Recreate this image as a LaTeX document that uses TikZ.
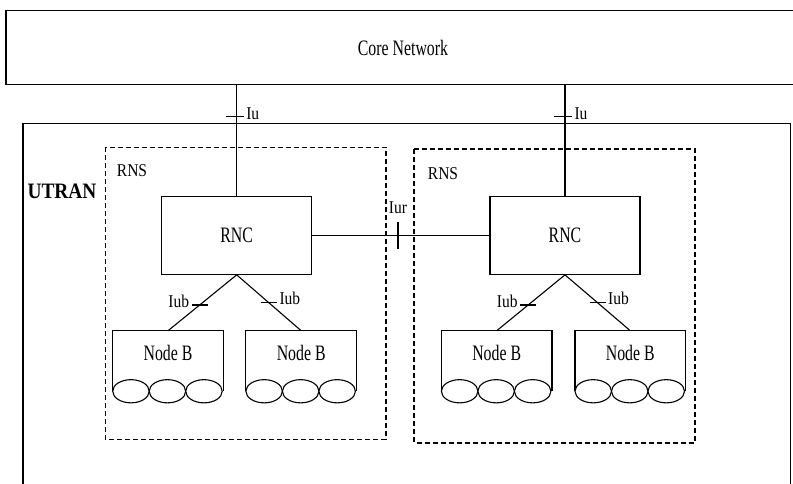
\documentclass[tikz,border=0pt]{standalone}
\usepackage{fontspec}
\setmainfont{Liberation Serif}[FakeStretch=0.72]
\newfontfamily\labelfont{Liberation Serif}[FakeStretch=0.86]
\newfontfamily\utranfont{Liberation Serif}[FakeStretch=0.88]
\usetikzlibrary{calc}

\begin{document}
\begin{tikzpicture}[x=1pt,y=-1pt,line width=1.1pt,
  box/.style={draw,rectangle,inner sep=0pt},
  nbbox/.style={rectangle,inner sep=0pt,minimum width=109.5,minimum height=59.4},
  rns/.style={draw,dash pattern=on 5pt off 3pt},
  small/.style={font=\labelfont\fontsize{18}{18}\selectfont,inner sep=0pt},
  big/.style={font=\fontsize{22}{22}\selectfont}]
\useasboundingbox (0,0) rectangle (793,483);
% core network and UTRAN
\node[box,minimum width=794,minimum height=73.4,big] (core) at (403,47.5) {Core Network};
\draw (23,495) -- (23,123.3) -- (790.7,123.3) -- (790.7,495);
\node[inner sep=0pt,font=\utranfont\bfseries\fontsize{22}{22}\selectfont] (utran) at (62,191) {UTRAN};
% radio network subsystems
\draw[rns] (105.3,147.3) rectangle (386,439.3);
\draw[rns,line width=1.8pt] (414,149.3) rectangle (695,442.7);
\node[small] (rns1) at (132,171) {RNS};
\node[small] (rns2) at (443,174) {RNS};
% RNCs
\node[box,minimum width=150,minimum height=77.6,big] (rnc1) at (236.7,235.5) {RNC};
\node[box,minimum width=150,minimum height=77.6,big] (rnc2) at (565,235.5) {RNC};
% node Bs
\foreach \n/\x in {1/168,2/301.2,3/496.7,4/630.3}{
  \node[nbbox] (nb\n) at (\x,361) {};
  \draw (nb\n.south west) -- (nb\n.north west) -- (nb\n.north east) -- (nb\n.south east);
  \foreach \k in {0,1,2}
    \draw[fill=white] ([xshift={18.25+36.5*\k}]nb\n.south west) ellipse (18.25 and 11.6);
  \node[big,inner sep=0pt] (nbt\n) at ($(nb\n.north)+(0,22)$) {Node B};
}
% Iu
\foreach \r in {1,2}{
  \draw (rnc\r.north) -- coordinate[pos=0.717] (iu\r) (rnc\r.north |- core.south);
  \draw ($(iu\r)+(-11,0)$) -- ($(iu\r)+(7,0)$);
  \node[small,anchor=west] (iul\r) at ($(iu\r)+(9,-3)$) {Iu};
}
% Iur
\draw (rnc1.east) -- coordinate[pos=0.484] (iur) (rnc2.west);
\draw ($(iur)+(0,-13.5)$) -- ($(iur)+(0,13.5)$);
\node[small] (iurl) at ($(iur)+(0,-28)$) {Iur};
% Iub
\foreach \r/\a/\b in {1/1/2,2/3/4}{
  \draw (rnc\r.south) -- coordinate[pos=0.54] (iub\a) (nb\a.north);
  \draw (rnc\r.south) -- coordinate[pos=0.5] (iub\b) (nb\b.north);
  \draw ($(iub\a)+(-8,0)$) -- ($(iub\a)+(8,0)$);
  \draw ($(iub\b)+(-8,0)$) -- ($(iub\b)+(8,0)$);
  \node[small,anchor=east] (iubl\a) at ($(iub\a)+(-10,-4)$) {Iub};
  \node[small,anchor=west] (iubl\b) at ($(iub\b)+(10,-4)$) {Iub};
}
\end{tikzpicture}
\end{document}
